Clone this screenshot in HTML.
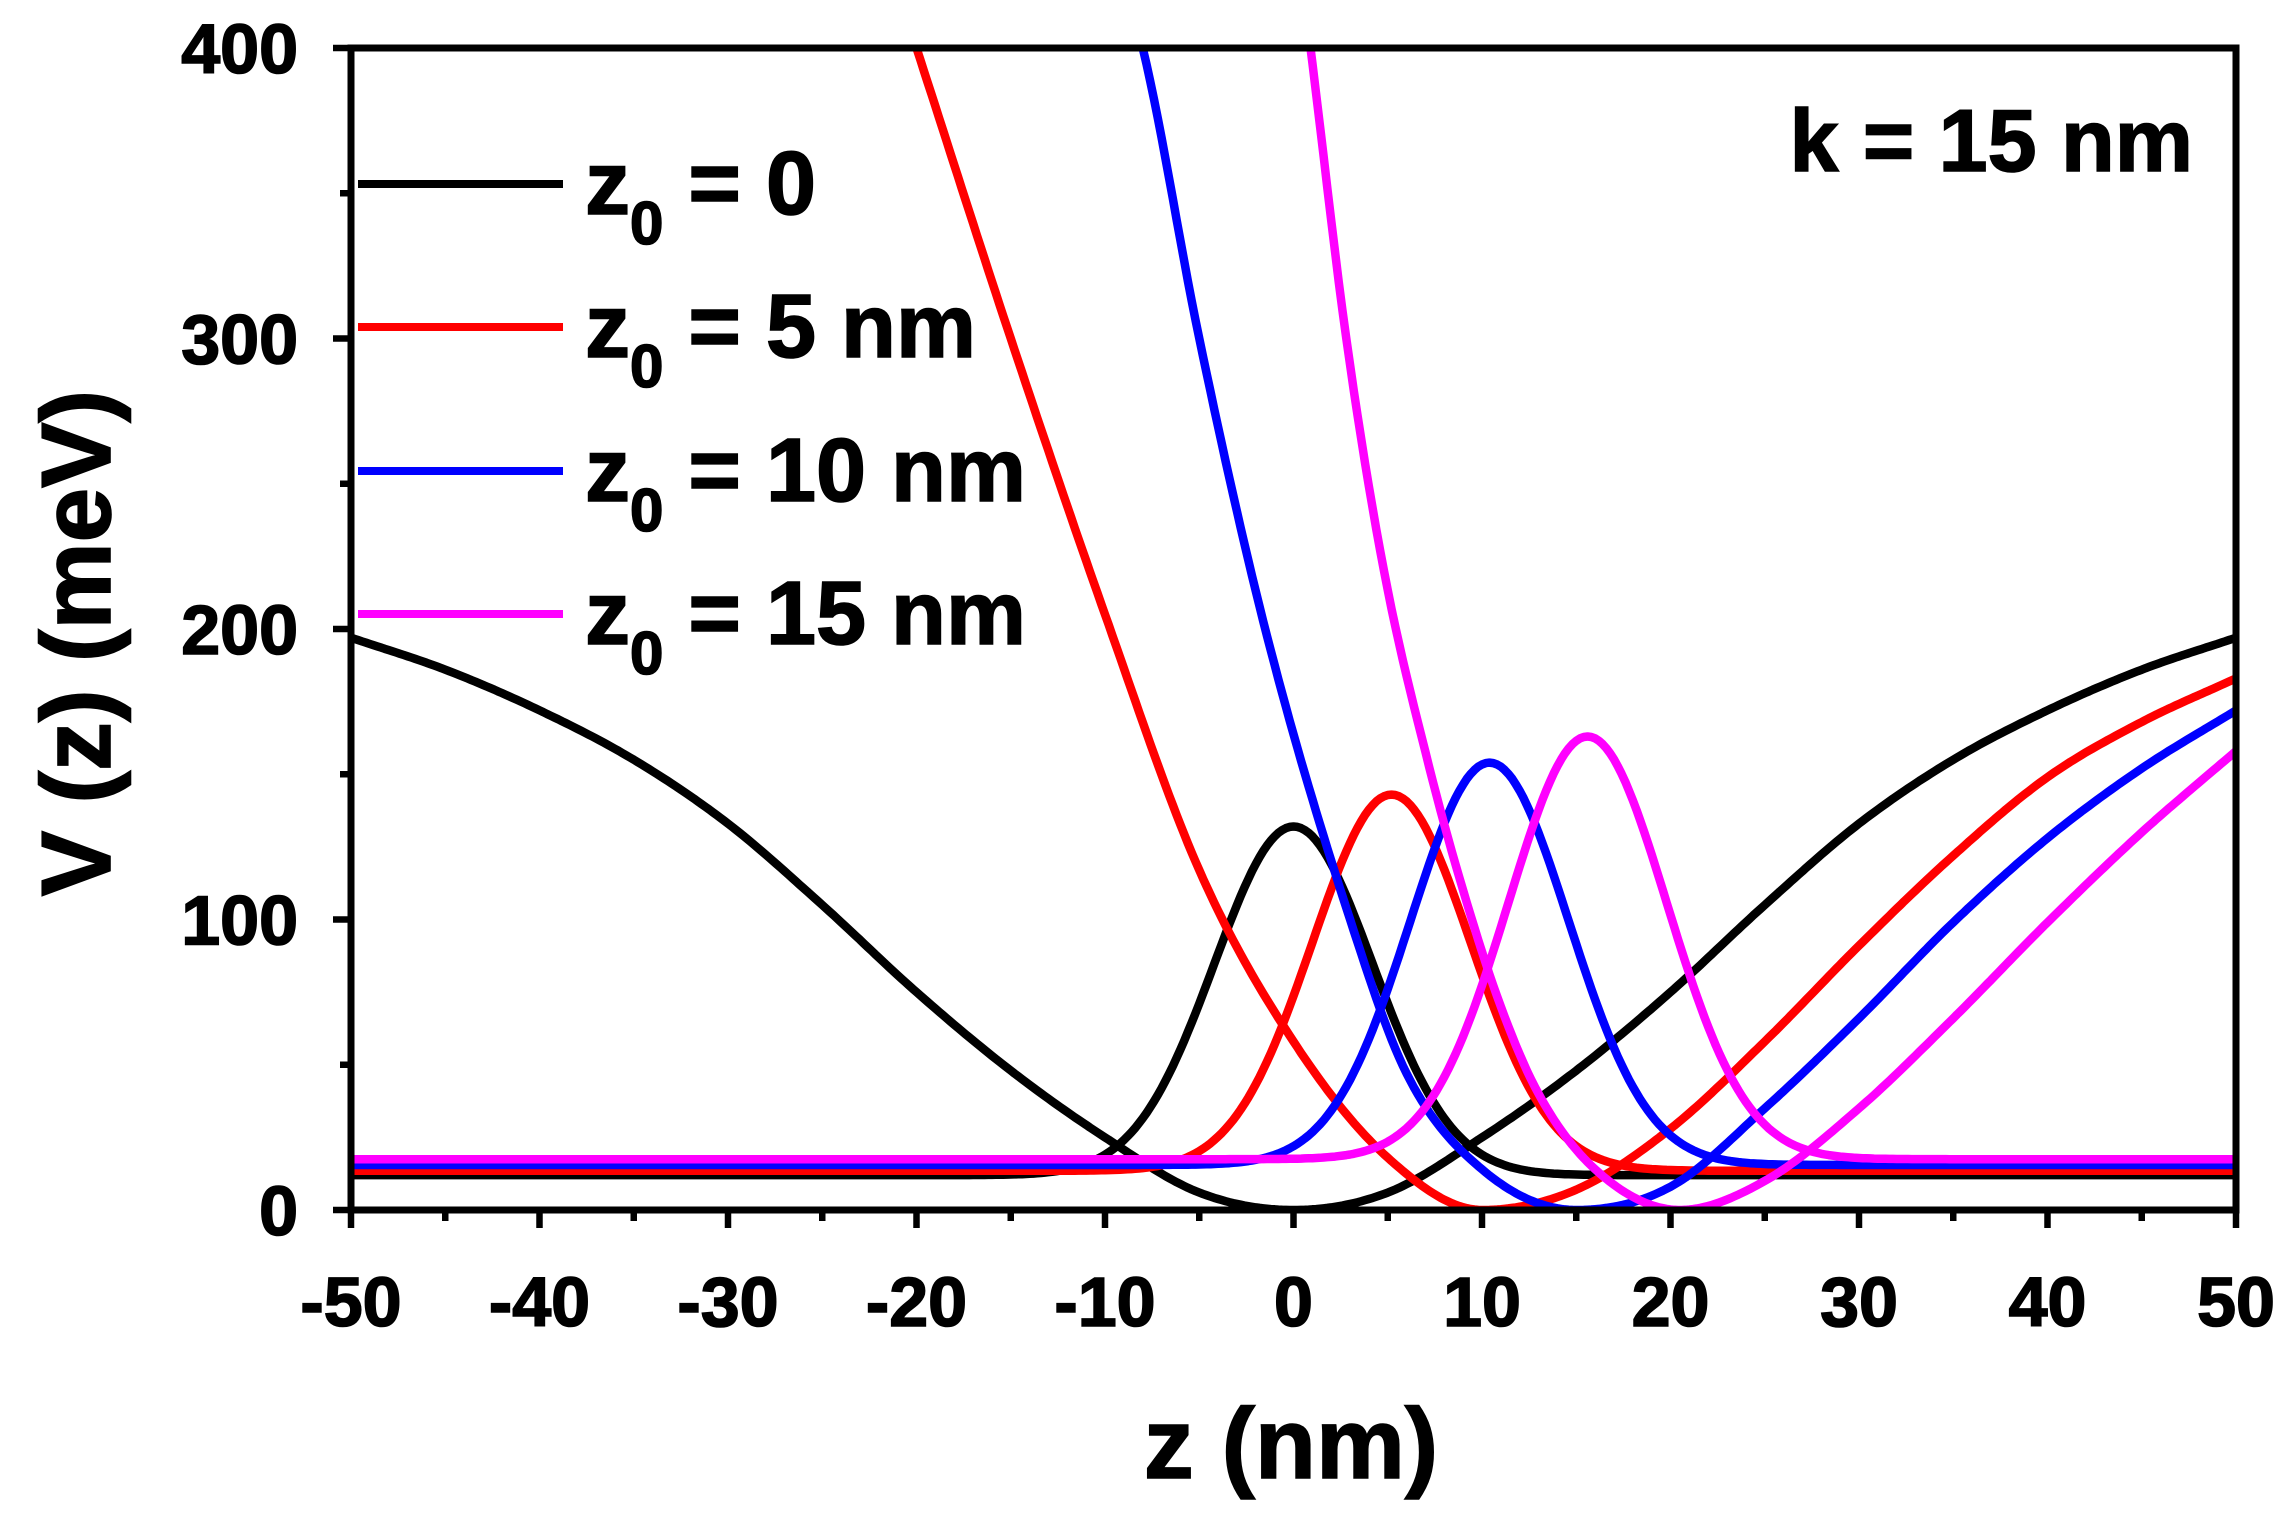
<!DOCTYPE html>
<html><head><meta charset="utf-8"><style>
html,body{margin:0;padding:0;background:#fff}
svg{display:block}
text{font-family:"Liberation Sans",Arial,sans-serif;font-weight:bold;fill:#000;stroke:#000;stroke-width:1.6}
</style></head><body>
<svg id="s" width="2292" height="1525" viewBox="0 0 2292 1525" xmlns="http://www.w3.org/2000/svg">
<defs><clipPath id="c"><rect x="351" y="48" width="1885" height="1162"/></clipPath></defs>
<g id="curves" clip-path="url(#c)" fill="none" stroke-width="8.5" stroke-linejoin="round"></g>
<rect x="351" y="48" width="1885" height="1162" fill="none" stroke="#000" stroke-width="7"/>
<g id="ticks" stroke="#000" stroke-width="6.5"></g>
<g id="labels" font-size="70"></g>
<text x="1291" y="1478" font-size="100" text-anchor="middle">z (nm)</text>
<text transform="translate(110,643) rotate(-90)" font-size="98" text-anchor="middle">V (z) (meV)</text>
<text x="2193" y="171" font-size="88" text-anchor="end">k = 15 nm</text>
<g stroke-width="8">
<line x1="358" y1="184" x2="563" y2="184" stroke="#000"/>
<line x1="358" y1="327" x2="563" y2="327" stroke="#f00"/>
<line x1="358" y1="471" x2="563" y2="471" stroke="#00f"/>
<line x1="358" y1="614" x2="563" y2="614" stroke="#f0f"/>
</g>
<g font-size="90">
<text x="585" y="214">z<tspan font-size="60" dy="30">0</tspan><tspan dy="-30"> = 0</tspan></text>
<text x="585" y="357">z<tspan font-size="60" dy="30">0</tspan><tspan dy="-30"> = 5 nm</tspan></text>
<text x="585" y="501">z<tspan font-size="60" dy="30">0</tspan><tspan dy="-30"> = 10 nm</tspan></text>
<text x="585" y="644">z<tspan font-size="60" dy="30">0</tspan><tspan dy="-30"> = 15 nm</tspan></text>
</g>
</svg>
<script>
var X=function(z){return 351+(z+50)*18.85},Y=function(v){return 1210-v*2.905};
var NS="http://www.w3.org/2000/svg";
function mono(pts){
 var n=pts.length,d=[],m=[];
 for(var i=0;i<n-1;i++)d.push((pts[i+1][1]-pts[i][1])/(pts[i+1][0]-pts[i][0]));
 m[0]=d[0];m[n-1]=d[n-2];
 for(i=1;i<n-1;i++){m[i]=(d[i-1]*d[i]<=0)?0:(d[i-1]+d[i])/2;}
 for(i=0;i<n-1;i++){if(d[i]==0){m[i]=0;m[i+1]=0;continue;}
  var a=m[i]/d[i],b=m[i+1]/d[i],s=a*a+b*b;
  if(s>9){var t=3/Math.sqrt(s);m[i]=t*a*d[i];m[i+1]=t*b*d[i];}}
 return function(z){
  if(z<=pts[0][0])return pts[0][1]+m[0]*(z-pts[0][0]);
  if(z>=pts[n-1][0])return pts[n-1][1]+m[n-1]*(z-pts[n-1][0]);
  for(var i=0;i<n-1;i++)if(z<=pts[i+1][0]){
   var h=pts[i+1][0]-pts[i][0],t=(z-pts[i][0])/h,t2=t*t,t3=t2*t;
   return (2*t3-3*t2+1)*pts[i][1]+(t3-2*t2+t)*h*m[i]+(-2*t3+3*t2)*pts[i+1][1]+(t3-t2)*h*m[i+1];}
 };}
var blk=[[0,0],[5,6],[10,25],[15,48],[20,75],[25,105],[30,133],[35,155],[40,172],[45,186],[50,197]];
var series=[
 {c:"#000",w:blk.slice().reverse().map(function(p){return[-p[0],p[1]]}).concat(blk.slice(1)),b:12,A:120,p:0},
 {c:"#f00",w:[[-22,440],[-20,400],[-15,300],[-10,205],[-5,117],[0,58],[5,18],[10,0],[15,7],[20,28],[25,58],[30,91],[35,122],[40,149],[45,168],[50,183]],b:13.5,A:129.5,p:5.2},
 {c:"#00f",w:[[-10,440],[-8,400],[-5,300],[-1.5,200],[3,100],[6,47],[10,14],[15,0],[20,8],[25,35],[30,66],[35,99],[40,128],[45,152],[50,172]],b:15.5,A:138.5,p:10.4},
 {c:"#f0f",w:[[0,445],[0.9,400],[2.8,300],[4.8,220],[7.1,155],[9,110],[11,70],[13,40],[16,14],[20.5,0],[25,10],[30,35],[35,66],[40,99],[45,130],[50,158]],b:17.5,A:145.5,p:15.6}];
var g=document.getElementById("curves");
series.forEach(function(s){
 var f=mono(s.w),d1="",d2="";
 for(var z=-50;z<=50.001;z+=0.2){
  var v=f(z); if(v>460)v=460;
  d1+=(d1?"L":"M")+X(z).toFixed(1)+" "+Y(v).toFixed(1);
  var u=s.b+s.A*Math.exp(-(z-s.p)*(z-s.p)/(2*4.2*4.2));
  d2+=(d2?"L":"M")+X(z).toFixed(1)+" "+Y(u).toFixed(1);}
 [d1,d2].forEach(function(d){var p=document.createElementNS(NS,"path");p.setAttribute("d",d);p.setAttribute("stroke",s.c);g.appendChild(p);});
});
var tk=document.getElementById("ticks"),lb=document.getElementById("labels");
function line(a,b,c,d){var l=document.createElementNS(NS,"line");l.setAttribute("x1",a);l.setAttribute("y1",b);l.setAttribute("x2",c);l.setAttribute("y2",d);tk.appendChild(l);}
function txt(x,y,s,anc){var t=document.createElementNS(NS,"text");t.setAttribute("x",x);t.setAttribute("y",y);t.setAttribute("text-anchor",anc);t.textContent=s;lb.appendChild(t);}
for(var z=-50;z<=50;z+=5){var maj=z%10==0;line(X(z),1210,X(z),1210+(maj?18:11));if(maj)txt(X(z),1326,String(z),"middle");}
for(var v=0;v<=400;v+=50){var maj=v%100==0;line(351,Y(v),351-(maj?18:11),Y(v));if(maj)txt(298,Y(v)+25,String(v),"end");}
</script>
</body></html>
